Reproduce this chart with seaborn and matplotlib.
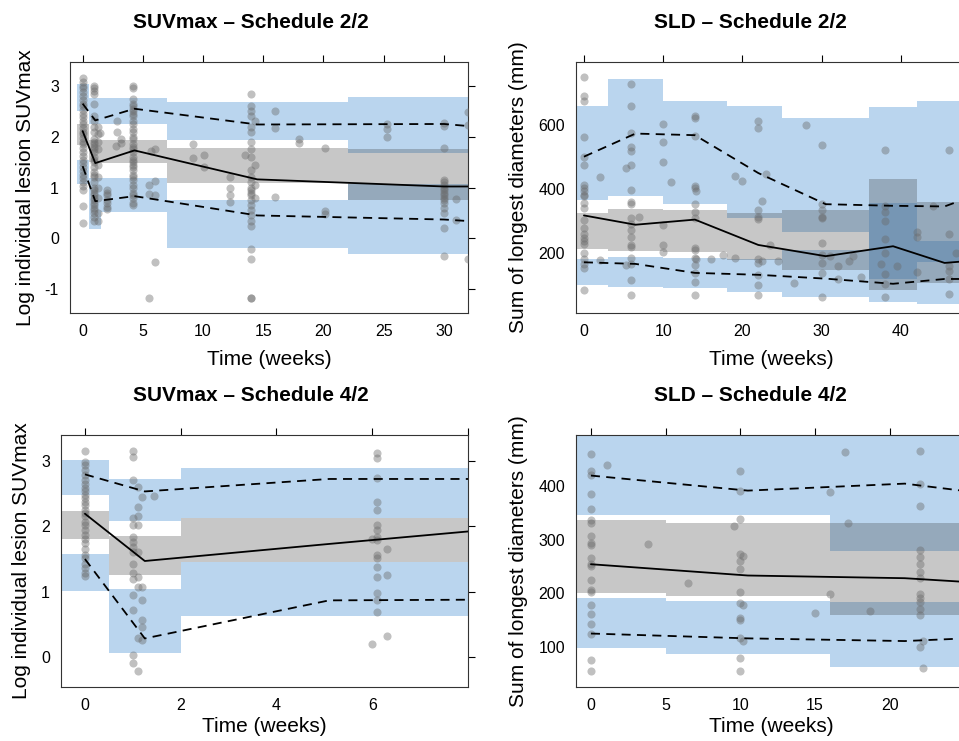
"""
    Visual predictive check panels: SUVmax and SLD for two dosing schedules.
    Blue boxes = CI of simulated 5th/95th percentiles, gray = CI of simulated median,
    lines = observed percentiles, dots = observations.
"""
import numpy as np
import pandas as pd
import seaborn as sns
import matplotlib.pyplot as plt

# ---------------------------------------------------------------- SUVmax, schedule 2/2
suv22_edges = [-0.5, 0.5, 1.5, 7, 22, 32]
suv22_hi_lo = [2.51, 2.24, 2.24, 1.94, 1.68]
suv22_hi_hi = [3.03, 2.76, 2.76, 2.69, 2.78]
suv22_md_lo = [1.84, 1.50, 1.49, 1.09, 0.75]
suv22_md_hi = [2.24, 1.93, 1.94, 1.77, 1.76]
suv22_lo_lo = [1.07, 0.19, 0.51, -0.19, -0.31]
suv22_lo_hi = [1.54, 1.18, 1.19, 0.75, 1.06]
suv22_obs_t = [0, 1.05, 4.3, 14.5, 30, 32]
suv22_p50 = [2.11, 1.48, 1.73, 1.16, 1.02, 1.02]
suv22_p95 = [2.65, 2.32, 2.55, 2.24, 2.25, 2.21]
suv22_p05 = [1.42, 0.73, 0.83, 0.45, 0.37, 0.34]
suv22_pts = [
    (0.0, [3.15, 3.08, 3.0, 2.95, 2.88, 2.8, 2.72, 2.65, 2.6, 2.52, 2.45, 2.38, 2.3, 2.25,
           2.18, 2.1, 2.05, 1.98, 1.9, 1.85, 1.78, 1.7, 1.62, 1.55, 1.48, 1.4, 1.33, 1.25,
           1.18, 1.1, 1.02, 0.95, 0.63, 0.3]),
    (0.97, [3.0, 2.95, 2.9, 2.85, 2.65, 2.4, 2.3, 2.2, 2.1, 1.95, 1.9, 1.85, 1.8, 1.75, 1.7,
            1.6, 1.55, 1.5, 1.4, 1.3, 1.25, 1.2, 1.1, 1.0, 0.95, 0.9, 0.85, 0.8, 0.75, 0.7,
            0.65, 0.6, 0.55, 0.5, 0.42, 0.35]),
    (1.25, [2.2, 2.05, 1.9, 1.75, 1.45, 1.2, 1.0, 0.8, 0.5, 0.35]),
    (1.45, [2.08]),
    (2.0, [0.95, 0.9, 0.85, 0.75, 0.7, 0.62, 0.57]),
    (2.75, [1.82]),
    (2.85, [2.3, 2.1]),
    (3.2, [1.95, 1.88]),
    (4.2, [3.0, 2.95, 2.75, 2.65, 2.6, 2.55, 2.5, 2.45, 2.4, 2.3, 2.25, 2.15, 2.1, 2.0, 1.95,
           1.85, 1.8, 1.75, 1.7, 1.6, 1.55, 1.5, 1.45, 1.4, 1.35, 1.25, 1.2, 1.15, 1.05, 1.0,
           0.9, 0.85, 0.8, 0.7, 0.65]),
    (5.5, [1.05, 0.88, -1.17]),
    (5.7, [1.72]),
    (6.0, [1.75, 1.12, 0.85, -0.47]),
    (9.2, [1.85, 1.58]),
    (10.1, [1.64, 1.4]),
    (12.2, [1.2, 1.0, 0.85, 0.72]),
    (13.5, [1.63]),
    (14.0, [2.85, 2.6, 2.5, 2.4, 2.2, 2.1, 1.9, 1.75, 1.6, 1.35, 1.2, 1.1, 1.0, 0.95, 0.9,
            0.85, 0.75, 0.65, 0.55, 0.45, 0.35, 0.25, -0.22, -0.4, -1.17, -1.17]),
    (14.3, [2.3, 1.45, 1.05, 0.8]),
    (16.0, [2.5, 2.17, 0.82]),
    (18.0, [1.95, 1.88]),
    (20.1, [1.77, 0.53, 0.47]),
    (25.3, [2.25, 2.15, 2.0]),
    (30.0, [2.27, 2.22, 1.77, 1.15, 1.1, 1.05, 1.0, 0.95, 0.9, 0.85, 0.8, 0.75, 0.7, 0.6,
            0.5, 0.2, -0.35]),
    (31.0, [0.78, 0.36]),
    (32.0, [2.48, 2.23, -0.4]),
]

# ---------------------------------------------------------------- SLD, schedule 2/2
sld22_edges = [-1, 3, 10, 18, 25, 36, 42, 50]
sld22_hi_lo = [366, 379, 354, 310, 264, 120, 173]
sld22_hi_hi = [659, 742, 672, 659, 621, 654, 675]
sld22_md_lo = [212, 207, 202, 178, 148, 84, 107]
sld22_md_hi = [325, 338, 333, 326, 335, 431, 360]
sld22_lo_lo = [101, 93, 91, 77, 64, 47, 40]
sld22_lo_hi = [182, 187, 184, 180, 210, 356, 238]
sld22_obs_t = [0, 6.5, 14, 22, 30.5, 39, 45.5, 48.5]
sld22_p50 = [317, 288, 304, 225, 190, 221, 169, 175]
sld22_p95 = [500, 572, 567, 449, 352, 347, 345, 372]
sld22_p05 = [171, 166, 138, 132, 120, 104, 119, 119]
sld22_pts = [
    (0.0, [747, 688, 675, 562, 500, 475, 412, 402, 392, 382, 376, 355, 340, 303, 278, 258,
           248, 237, 228, 200, 180, 165, 152, 84]),
    (2.0, [437, 179]),
    (5.3, [465, 164]),
    (6.0, [725, 659, 574, 530, 519, 475, 397, 358, 352, 309, 290, 273, 250, 226, 219, 184,
           165, 117, 68]),
    (7.0, [311]),
    (10.0, [603, 546, 484, 288, 224, 204]),
    (11.0, [421]),
    (14.0, [626, 620, 564, 408, 402, 353, 328, 310, 216, 210, 184, 164, 138, 111, 69]),
    (14.2, [392, 180]),
    (16.0, [181]),
    (17.5, [195]),
    (19.0, [439, 183]),
    (20.0, [423]),
    (22.0, [612, 590, 333, 311, 305, 182, 169, 132, 101, 70]),
    (22.5, [361, 174]),
    (23.0, [446]),
    (23.5, [226]),
    (24.5, [174]),
    (26.5, [106]),
    (28.0, [600]),
    (30.0, [537, 353, 335, 311, 308, 231, 193, 169, 138, 63]),
    (31.0, [190]),
    (32.0, [158, 120]),
    (33.5, [174]),
    (34.0, [192]),
    (35.0, [125]),
    (37.5, [165]),
    (38.0, [522, 345, 328, 299, 242, 200, 135, 103, 63]),
    (39.5, [158]),
    (42.0, [265, 250, 141]),
    (44.0, [345]),
    (46.0, [520, 259, 158, 143, 119, 72]),
    (47.0, [200]),
]

# ---------------------------------------------------------------- SUVmax, schedule 4/2
suv42_edges = [-0.5, 0.5, 2, 8.5]
suv42_hi_lo = [2.47, 2.08, 2.12]
suv42_hi_hi = [3.01, 2.72, 2.89]
suv42_md_lo = [1.81, 1.26, 1.46]
suv42_md_hi = [2.23, 1.85, 2.12]
suv42_lo_lo = [1.02, 0.07, 0.63]
suv42_lo_hi = [1.58, 1.05, 1.46]
suv42_obs_t = [0, 1.25, 5.1, 8.0]
suv42_p50 = [2.19, 1.47, 1.73, 1.92]
suv42_p95 = [2.79, 2.53, 2.72, 2.72]
suv42_p05 = [1.5, 0.29, 0.87, 0.88]
suv42_pts = [
    (0.0, [3.14, 2.98, 2.93, 2.86, 2.78, 2.70, 2.65, 2.58, 2.53, 2.48, 2.43, 2.37, 2.32,
           2.25, 2.20, 2.15, 2.07, 2.02, 1.94, 1.87, 1.81, 1.74, 1.66, 1.56, 1.51, 1.43,
           1.36, 1.28, 1.24]),
    (1.0, [3.14, 3.06, 2.70, 2.12, 2.02, 1.84, 1.76, 1.69, 1.61, 1.43, 1.28, 1.2, 0.95,
           0.72, 0.04, -0.09]),
    (1.1, [2.60, 2.30, 2.15, 2.02, 1.61, 1.23, 1.08, 0.29, -0.2]),
    (1.2, [2.45, 1.08, 0.87, 0.57, 0.47, 0.26]),
    (1.45, [2.46]),
    (6.0, [1.81, 0.21]),
    (6.1, [3.11, 3.04, 2.73, 2.37, 2.25, 2.02, 1.94, 1.84, 1.79, 1.56, 1.51, 1.38, 1.23,
           0.98, 0.87, 0.70]),
    (6.3, [1.65, 1.25, 0.32]),
]

# ---------------------------------------------------------------- SLD, schedule 4/2
sld42_edges = [-1, 5, 16, 26]
sld42_hi_lo = [345, 345, 279]
sld42_hi_hi = [520, 520, 520]
sld42_md_lo = [201, 194, 160]
sld42_md_hi = [336, 331, 330]
sld42_lo_lo = [99, 86, 62]
sld42_lo_hi = [191, 185, 183]
sld42_obs_t = [0, 10.5, 21, 25.1]
sld42_p50 = [254, 233, 228, 221]
sld42_p95 = [419, 391, 404, 390]
sld42_p05 = [125, 116, 111, 116]
sld42_pts = [
    (0.0, [460, 427, 420, 384, 356, 337, 331, 306, 293, 289, 265, 255, 250, 225, 206, 202,
           179, 162, 143, 124, 76, 55]),
    (1.1, [438]),
    (3.8, [291]),
    (6.5, [219]),
    (9.6, [325]),
    (10.0, [428, 391, 338, 273, 260, 245, 202, 181, 153, 151, 117, 80, 55]),
    (10.2, [270, 178, 111]),
    (15.0, [164]),
    (16.0, [389, 199]),
    (17.0, [463]),
    (17.2, [330]),
    (18.7, [167]),
    (22.0, [465, 403, 363, 280, 268, 255, 240, 229, 199, 191, 184, 171, 159, 100]),
    (22.2, [112, 61]),
]

BLUE = (0.325, 0.588, 0.835)
GRAY = (0.2, 0.2, 0.2)
DOT = "#6a6a6a"
W, H = 959, 741


def to_frame(pts):
    rows = [(t, v) for t, vals in pts for v in vals]
    return pd.DataFrame(rows, columns=["t", "v"])


def panel(ax, edges, hi_lo, hi_hi, md_lo, md_hi, lo_lo, lo_hi,
          obs_t, p05, p50, p95, pts, xlim, ylim, xticks, xlabels, yticks, ylabel,
          xpad=8):
    for k in range(len(edges) - 1):
        xs = [edges[k], edges[k + 1]]
        ax.fill_between(xs, [lo_lo[k]] * 2, [lo_hi[k]] * 2, color=BLUE, alpha=0.4, lw=0, zorder=1)
        ax.fill_between(xs, [hi_lo[k]] * 2, [hi_hi[k]] * 2, color=BLUE, alpha=0.4, lw=0, zorder=1)
    for k in range(len(edges) - 1):
        xs = [edges[k], edges[k + 1]]
        ax.fill_between(xs, [md_lo[k]] * 2, [md_hi[k]] * 2, color=GRAY, alpha=0.27, lw=0, zorder=2)

    sns.scatterplot(data=to_frame(pts), x="t", y="v", ax=ax, color=DOT, alpha=0.42,
                    s=34, linewidth=0, legend=False, zorder=3)

    sns.lineplot(x=obs_t, y=p50, ax=ax, color="black", lw=1.3, estimator=None,
                 sort=False, zorder=4)
    for p in (p05, p95):
        sns.lineplot(x=obs_t, y=p, ax=ax, color="black", lw=1.3, estimator=None,
                     sort=False, linestyle=(0, (5, 3.5)), zorder=4)

    ax.set_xlim(*xlim)
    ax.set_ylim(*ylim)
    ax.set_xticks(xticks)
    ax.set_xticklabels(xlabels)
    ax.set_yticks(yticks)
    ax.set_yticklabels([f"{y:g}" for y in yticks])
    ax.tick_params(direction="out", length=5, width=0.8, top=True, right=True,
                   labeltop=False, labelright=False, labelsize=11.5, pad=3, colors="black")
    for s in ax.spines.values():
        s.set_visible(True)
        s.set_color("#333333")
        s.set_linewidth(0.8)
    ax.set_xlabel("Time (weeks)", fontsize=15, labelpad=xpad, color="black")
    ax.set_ylabel(ylabel, fontsize=15, labelpad=7, color="black")


sns.set_theme(style="white")
plt.rcParams["font.family"] = ["Liberation Sans", "DejaVu Sans"]
plt.rcParams["text.color"] = "black"
plt.rcParams["axes.labelcolor"] = "black"

fig = plt.figure(figsize=(W / 100, H / 100), dpi=100)


def rect(left, top, right, bottom):
    return [left / W, 1 - bottom / H, (right - left) / W, (bottom - top) / H]


ax1 = fig.add_axes(rect(70, 62, 468, 313))
ax2 = fig.add_axes(rect(576, 62, 966, 313))
ax3 = fig.add_axes(rect(61, 435, 468, 687))
ax4 = fig.add_axes(rect(576, 435, 966, 687))

lab_suv = "Log individual lesion SUVmax"
lab_sld = "Sum of longest diameters (mm)"

panel(ax1, suv22_edges, suv22_hi_lo, suv22_hi_hi, suv22_md_lo, suv22_md_hi, suv22_lo_lo,
      suv22_lo_hi, suv22_obs_t, suv22_p05, suv22_p50, suv22_p95, suv22_pts,
      (-1.05, 32), (-1.47, 3.47), [0, 5, 10, 15, 20, 25, 30],
      ["0", "5", "10", "15", "20", "25", "30"], [-1, 0, 1, 2, 3], lab_suv)
panel(ax2, sld22_edges, sld22_hi_lo, sld22_hi_hi, sld22_md_lo, sld22_md_hi, sld22_lo_lo,
      sld22_lo_hi, sld22_obs_t, sld22_p05, sld22_p50, sld22_p95, sld22_pts,
      (-1.0, 48.2), (13, 795), [0, 10, 20, 30, 40],
      ["0", "10", "20", "30", "40"], [200, 400, 600], lab_sld)
panel(ax3, suv42_edges, suv42_hi_lo, suv42_hi_hi, suv42_md_lo, suv42_md_hi, suv42_lo_lo,
      suv42_lo_hi, suv42_obs_t, suv42_p05, suv42_p50, suv42_p95, suv42_pts,
      (-0.5, 8.0), (-0.45, 3.39), [0, 2, 4, 6, 8],
      ["0", "2", "4", "6", ""], [0, 1, 2, 3], lab_suv, xpad=3)
panel(ax4, sld42_edges, sld42_hi_lo, sld42_hi_hi, sld42_md_lo, sld42_md_hi, sld42_lo_lo,
      sld42_lo_hi, sld42_obs_t, sld42_p05, sld42_p50, sld42_p95, sld42_pts,
      (-1.0, 25.1), (25.5, 494.5), [0, 5, 10, 15, 20],
      ["0", "5", "10", "15", "20"], [100, 200, 300, 400], lab_sld, xpad=3)

tkw = dict(ha="center", va="baseline", fontsize=15, fontweight="bold", color="black")
fig.text(251 / W, 1 - 28 / H, "SUVmax – Schedule 2/2", **tkw)
fig.text(750 / W, 1 - 28 / H, "SLD – Schedule 2/2", **tkw)
fig.text(251 / W, 1 - 401 / H, "SUVmax – Schedule 4/2", **tkw)
fig.text(750 / W, 1 - 401 / H, "SLD – Schedule 4/2", **tkw)

fig.savefig("out.png", dpi=100)
